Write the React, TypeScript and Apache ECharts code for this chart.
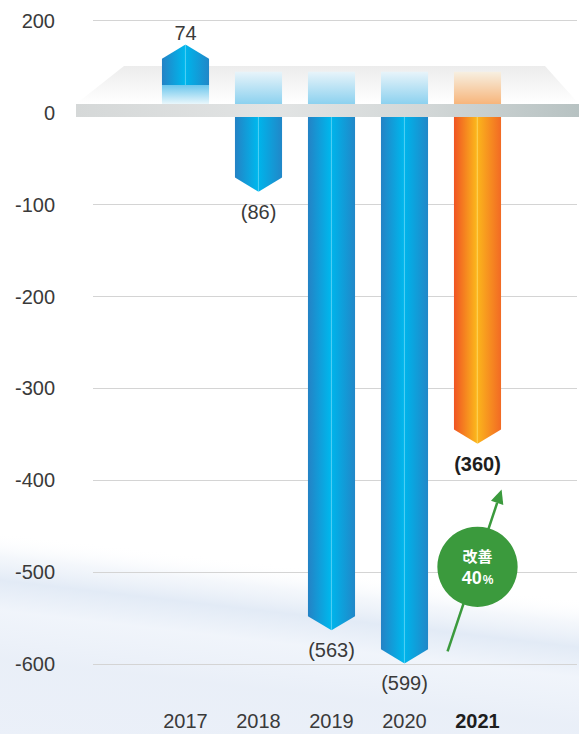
import React, { useEffect, useRef } from 'react';
import * as echarts from 'echarts';

// Net income by fiscal year
const years = ['2017', '2018', '2019', '2020', '2021'];
const netIncome = [74, -86, -563, -599, -360];
const highlightYear = '2021';
// Tick labels from the top tick down (top tick is printed as 200)
const yTickLabels = ['200', '0', '-100', '-200', '-300', '-400', '-500', '-600'];
const badgeTitle = '改善';
const badgeValue = '40';
const badgeUnit = '%';
// Value-axis anchors (data units) for the improvement arrow and badge
const arrowStartValue = -586;
const arrowEndValue = -410;
const badgeValueAt = -494;

const W = 579;
const H = 734;
const FONT = "'Liberation Sans', Arial, 'Noto Sans CJK JP', sans-serif";
const GRID_TOP = 20.7;
const GRID_BOTTOM = 69.7;
const GRID_LEFT = 93;
const Y_MIN = -600;
const Y_MAX = 100;

const blueStops = [
  { offset: 0, color: '#2482c5' },
  { offset: 0.47, color: '#00b6ec' },
  { offset: 0.495, color: '#10bdef' },
  { offset: 0.5, color: '#4ccdf3' },
  { offset: 0.515, color: '#00b3ea' },
  { offset: 1, color: '#2187c8' },
];
const orangeStops = [
  { offset: 0, color: '#f05423' },
  { offset: 0.47, color: '#fbb41c' },
  { offset: 0.5, color: '#fccd4e' },
  { offset: 0.515, color: '#fbb21c' },
  { offset: 1, color: '#f26a24' },
];

export default function App() {
  const ref = useRef<HTMLDivElement>(null);

  useEffect(() => {
    document.body.style.margin = '0';
    document.body.style.overflow = 'hidden';
    const chart = echarts.init(ref.current!, null, { renderer: 'svg' });

    const renderBar = (params: any, api: any) => {
      const i = api.value(0);
      const v = api.value(1);
      const [cx, zeroY] = api.coord([i, 0]);
      const endY = api.coord([i, v])[1];
      const w = api.size([1, 0])[0] * 0.645;
      const half = w / 2;
      const tip = half * 0.6;
      const hot = years[i] === highlightYear;
      const fill = new echarts.graphic.LinearGradient(0, 0, 1, 0, hot ? orangeStops : blueStops);
      const deckFront = zeroY - 8.6;
      const deckBack = zeroY - 41;
      const children: any[] = [];
      const labelStyle = {
        fill: hot ? '#1e1e1e' : '#3a3a3a',
        fontSize: 20,
        fontWeight: hot ? 'bold' : 'normal',
        fontFamily: FONT,
        align: 'center',
        verticalAlign: 'middle',
      };
      if (v >= 0) {
        const bodyBottom = zeroY - 27.6;
        children.push({
          type: 'rect',
          shape: { x: cx - half, y: bodyBottom, width: w, height: deckFront - bodyBottom },
          style: {
            fill: new echarts.graphic.LinearGradient(0, 0, 0, 1, [
              { offset: 0, color: '#6cc7ed' },
              { offset: 1, color: '#eaf7fc' },
            ]),
          },
        });
        children.push({
          type: 'polygon',
          shape: {
            points: [
              [cx - half, bodyBottom],
              [cx - half, endY + tip],
              [cx, endY],
              [cx + half, endY + tip],
              [cx + half, bodyBottom],
            ],
          },
          style: { fill },
        });
        children.push({
          type: 'text',
          x: cx,
          y: endY - 12,
          style: { ...labelStyle, text: String(v) },
        });
      } else {
        children.push({
          type: 'rect',
          shape: { x: cx - half, y: deckBack, width: w, height: deckFront - deckBack },
          style: {
            fill: new echarts.graphic.LinearGradient(
              0, 0, 0, 1,
              hot
                ? [
                    { offset: 0, color: '#f7f0e2' },
                    { offset: 1, color: '#f7b57b' },
                  ]
                : [
                    { offset: 0, color: '#e8f4fa' },
                    { offset: 1, color: '#8cd1ef' },
                  ]
            ),
          },
        });
        children.push({
          type: 'polygon',
          shape: {
            points: [
              [cx - half, zeroY],
              [cx + half, zeroY],
              [cx + half, endY - tip],
              [cx, endY],
              [cx - half, endY - tip],
            ],
          },
          style: { fill },
        });
        children.push({
          type: 'text',
          x: cx,
          y: endY + 20,
          style: { ...labelStyle, text: `(${-v})` },
        });
      }
      return { type: 'group', children };
    };

    chart.setOption({
      animation: false,
      backgroundColor: '#ffffff',
      grid: [
        { left: GRID_LEFT, right: 2, top: GRID_TOP, bottom: GRID_BOTTOM },
        { left: 149, right: 65, top: GRID_TOP, bottom: GRID_BOTTOM },
      ],
      xAxis: [
        { type: 'value', gridIndex: 0, show: false, min: 0, max: 1 },
        {
          type: 'category',
          gridIndex: 1,
          data: years,
          axisLine: { show: false },
          axisTick: { show: false },
          splitLine: { show: false },
          axisLabel: {
            interval: 0,
            hideOverlap: false,
            margin: 47,
            fontSize: 20,
            color: '#3a3a3a',
            fontFamily: FONT,
            formatter: (v: string) => (v === highlightYear ? `{b|${v}}` : v),
            rich: {
              b: { fontSize: 20, fontWeight: 'bold', color: '#1e1e1e', fontFamily: FONT },
            },
          },
        },
      ],
      yAxis: [
        {
          type: 'value',
          gridIndex: 0,
          min: Y_MIN,
          max: Y_MAX,
          interval: 100,
          axisLine: { show: false },
          axisTick: { show: false },
          splitLine: { lineStyle: { color: '#d4d4d4', width: 1 } },
          axisLabel: {
            margin: 38,
            fontSize: 20,
            color: '#3a3a3a',
            fontFamily: FONT,
            formatter: (v: number) => yTickLabels[Math.round((Y_MAX - v) / 100)] ?? '',
          },
        },
        { type: 'value', gridIndex: 1, min: Y_MIN, max: Y_MAX, interval: 100, show: false },
      ],
      series: [
        {
          type: 'custom',
          xAxisIndex: 1,
          yAxisIndex: 1,
          z: 3,
          renderItem: renderBar,
          encode: { x: 0, y: 1 },
          data: netIncome.map((v, i) => [i, v]),
        },
      ],
    });

    // Decorations anchored to the axes: haze, deck, zero strip, improvement badge
    const hi = years.indexOf(highlightYear);
    const px = (i: number, v: number) => chart.convertToPixel({ gridIndex: 1 }, [i, v]) as number[];
    const zeroY = px(0, 0)[1];
    const band = px(1, 0)[0] - px(0, 0)[0];
    const cx = px(hi, 0)[0];
    const start = [cx - 0.41 * band, px(hi, arrowStartValue)[1]];
    const end = [cx + 0.33 * band, px(hi, arrowEndValue)[1]];
    const dx = end[0] - start[0];
    const dy = end[1] - start[1];
    const len = Math.hypot(dx, dy);
    const ux = dx / len;
    const uy = dy / len;
    const headLen = 14;
    const headHalf = 6.5;
    const base = [end[0] - ux * headLen, end[1] - uy * headLen];
    const nx = -uy;
    const ny = ux;
    const badgeY = px(hi, badgeValueAt)[1];
    const badgeR = 0.55 * band;
    const green = '#3b9a3d';

    chart.setOption({
      graphic: [
        {
          type: 'rect',
          z: -1,
          x: 0,
          y: 532,
          rotation: -0.115,
          shape: { x: -120, y: 0, width: 820, height: 300 },
          style: {
            fill: new echarts.graphic.LinearGradient(0, 0, 0, 1, [
              { offset: 0, color: 'rgba(255,255,255,0)' },
              { offset: 0.08, color: 'rgba(230,237,247,0.45)' },
              { offset: 0.16, color: 'rgba(214,226,242,0.7)' },
              { offset: 0.26, color: 'rgba(234,240,249,0.7)' },
              { offset: 0.42, color: 'rgba(228,235,246,0.8)' },
              { offset: 1, color: 'rgba(238,242,250,1)' },
            ]),
          },
          silent: true,
        },
        {
          type: 'polygon',
          z: 1,
          shape: {
            points: [
              [GRID_LEFT + 31, zeroY - 46.6],
              [W - 34, zeroY - 46.6],
              [W, zeroY - 8.6],
              [GRID_LEFT - 17, zeroY - 8.6],
            ],
          },
          style: {
            fill: new echarts.graphic.LinearGradient(0, 0, 0, 1, [
              { offset: 0, color: '#ececec' },
              { offset: 1, color: '#ffffff' },
            ]),
          },
          silent: true,
        },
        {
          type: 'rect',
          z: 10,
          shape: { x: GRID_LEFT - 17, y: zeroY - 8.6, width: W - (GRID_LEFT - 17), height: 13 },
          style: {
            fill: new echarts.graphic.LinearGradient(0, 0, 1, 0, [
              { offset: 0, color: '#d5d8d8' },
              { offset: 0.4, color: '#e2e4e4' },
              { offset: 0.7, color: '#d2d7d7' },
              { offset: 1, color: '#b7c2c2' },
            ]),
          },
          silent: true,
        },
        {
          type: 'line',
          z: 11,
          shape: { x1: start[0], y1: start[1], x2: base[0], y2: base[1] },
          style: { stroke: green, lineWidth: 2.5 },
          silent: true,
        },
        {
          type: 'polygon',
          z: 11,
          shape: {
            points: [
              end,
              [base[0] + nx * headHalf, base[1] + ny * headHalf],
              [base[0] - nx * headHalf, base[1] - ny * headHalf],
            ],
          },
          style: { fill: green },
          silent: true,
        },
        {
          type: 'circle',
          z: 12,
          shape: { cx, cy: badgeY, r: badgeR },
          style: { fill: green },
          silent: true,
        },
        {
          type: 'text',
          z: 13,
          x: cx,
          y: badgeY - 11,
          style: {
            text: badgeTitle,
            fill: '#ffffff',
            fontSize: 15,
            fontWeight: 'bold',
            fontFamily: "'Noto Sans CJK JP', sans-serif",
            align: 'center',
            verticalAlign: 'middle',
          },
          silent: true,
        },
        {
          type: 'text',
          z: 13,
          x: cx,
          y: badgeY + 11,
          style: {
            text: `{a|${badgeValue}}{u|${badgeUnit}}`,
            align: 'center',
            verticalAlign: 'middle',
            rich: {
              a: { fontSize: 18, fontWeight: 'bold', fill: '#ffffff', fontFamily: FONT },
              u: { fontSize: 12, fontWeight: 'bold', fill: '#ffffff', fontFamily: FONT, padding: [5, 0, 0, 1] },
            },
          },
          silent: true,
        },
      ],
    });

    return () => chart.dispose();
  }, []);

  return <div ref={ref} style={{ width: W, height: H }} />;
}
